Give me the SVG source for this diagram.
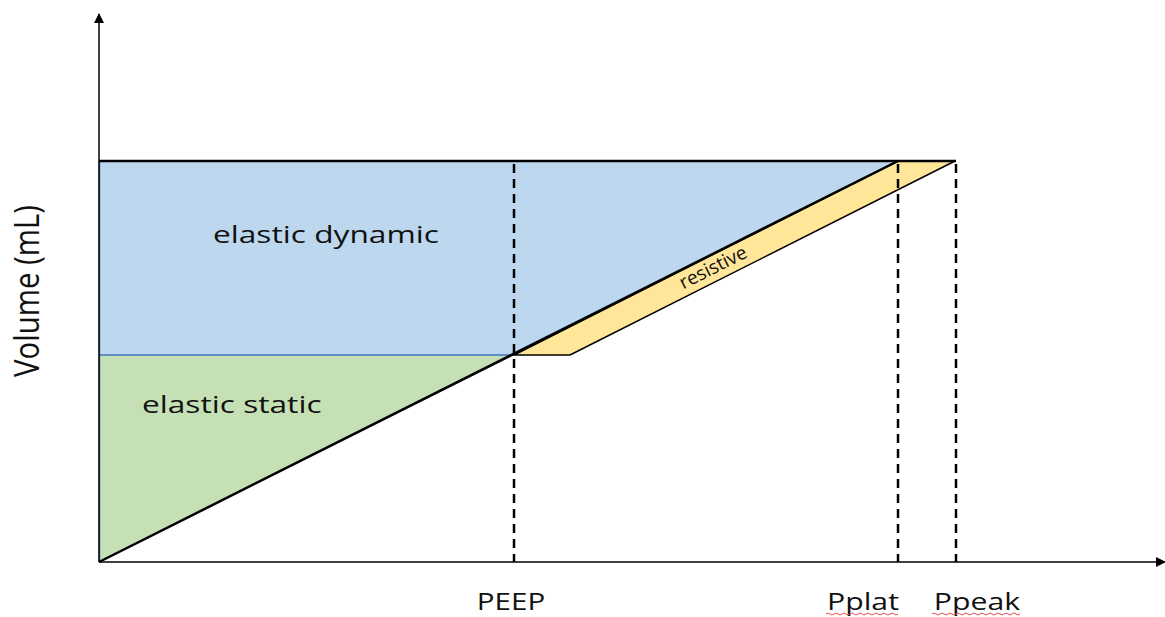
<svg xmlns="http://www.w3.org/2000/svg" width="1165" height="617" viewBox="0 0 1165 617">
<style>
.lbl{font-family:"Open Sans","Liberation Sans",sans-serif;fill:#111;font-weight:500}
.dash{stroke:#000;stroke-width:2.5;stroke-dasharray:9,6;fill:none}
</style>
<defs>
<marker id="ah" markerWidth="10" markerHeight="10" refX="9" refY="5" orient="auto" markerUnits="userSpaceOnUse">
<path d="M0,0 L10,5 L0,10 Z" fill="#000"/>
</marker>
</defs>
<rect width="1165" height="617" fill="#fff"/>
<g id="elastic-dynamic">
<polygon points="99,161 898,161 514,355 99,355" fill="#BDD7EE"/>
<text class="lbl" font-size="24" transform="translate(213,243) scale(1.32,1)">elastic dynamic</text>
</g>
<g id="elastic-static">
<polygon points="99,562 99,355 514,355" fill="#C5E0B4"/>
<text class="lbl" font-size="24" transform="translate(142,413) scale(1.32,1)">elastic static</text>
</g>
<g id="resistive">
<polygon points="514,355 570,355 955,161 898,161" fill="#FFE699" stroke="#000" stroke-width="1.5" stroke-linejoin="round"/>
<text class="lbl" x="716" y="273" font-size="19" text-anchor="middle" transform="rotate(-26.7 716 273)">resistive</text>
</g>
<g id="connectors">
<line x1="99" y1="355" x2="514" y2="355" stroke="#4472C4" stroke-width="1.5"/>
<line x1="99.5" y1="161" x2="99.5" y2="562" stroke="#4472C4" stroke-width="1.5"/>
<line x1="99" y1="562" x2="99" y2="14" stroke="#000" stroke-width="1.5" marker-end="url(#ah)"/>
<line x1="99" y1="562" x2="1165" y2="562" stroke="#000" stroke-width="1.5" marker-end="url(#ah)"/>
<line x1="99" y1="161" x2="956" y2="161" stroke="#000" stroke-width="2.5"/>
<line x1="99" y1="562" x2="898" y2="161" stroke="#000" stroke-width="2.5"/>
<line class="dash" x1="514" y1="164" x2="514" y2="562"/>
<line class="dash" x1="898" y1="164" x2="898" y2="562"/>
<line class="dash" x1="956" y1="164" x2="956" y2="562"/>
</g>
<g id="axis-labels">
<text class="lbl" font-size="26" text-anchor="middle" dominant-baseline="middle" transform="translate(30,291) rotate(-90) scale(1.13,1.35)">Volume (mL)</text>
<text class="lbl" font-size="24" text-anchor="middle" transform="translate(511,610) scale(1.23,1)">PEEP</text>
<text class="lbl" font-size="24" text-anchor="middle" transform="translate(863,610) scale(1.26,1)">Pplat</text>
<text class="lbl" font-size="24" text-anchor="middle" transform="translate(977,610) scale(1.26,1)">Ppeak</text>
<path d="M826,614 q2,-2 4,0 t4,0 t4,0 t4,0 t4,0 t4,0 t4,0 t4,0 t4,0 t4,0 t4,0 t4,0 t4,0 t4,0 t4,0 t4,0 t4,0 t4,0" fill="none" stroke="#E05050" stroke-width="1"/>
<path d="M932,614 q2,-2 4,0 t4,0 t4,0 t4,0 t4,0 t4,0 t4,0 t4,0 t4,0 t4,0 t4,0 t4,0 t4,0 t4,0 t4,0 t4,0 t4,0 t4,0 t4,0 t4,0 t4,0 t4,0" fill="none" stroke="#E05050" stroke-width="1"/>
</g>
</svg>
